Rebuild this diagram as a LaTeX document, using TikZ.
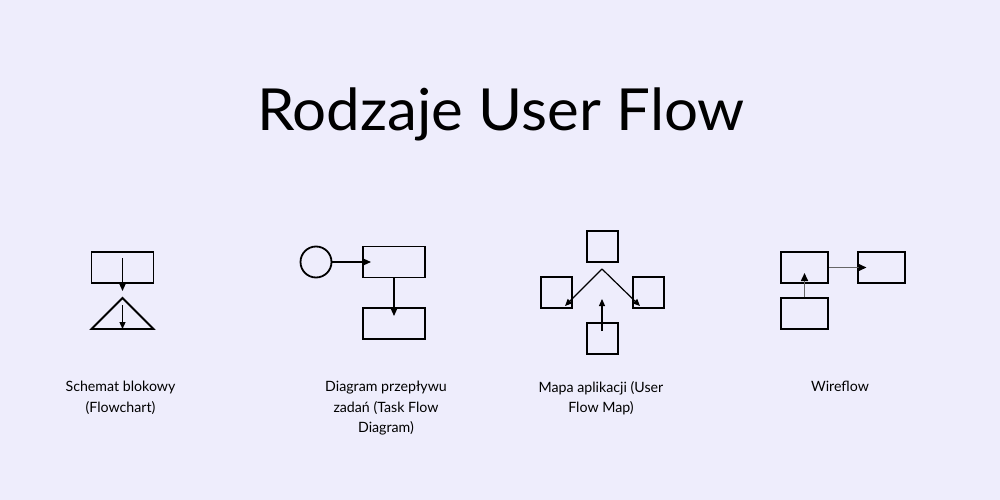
\documentclass[tikz,border=0pt]{standalone}
\usepackage{fontspec}
\setmainfont{Lato}
\newfontfamily\titlefont[FakeStretch=1.035]{Lato}
\usetikzlibrary{arrows.meta,calc}
\definecolor{bg}{HTML}{EEEDFC}
\begin{document}
\begin{tikzpicture}[x=1pt,y=-1pt,
  box/.style={draw=black,line width=1.8pt,inner sep=0pt,minimum width=#1,minimum height=31pt},
  box/.default=62pt,
  sq/.style={draw=black,line width=1.8pt,inner sep=0pt,minimum width=31pt,minimum height=31pt},
  arr/.style={line width=1.2pt,-{Triangle[length=7pt,width=6pt]}},
  garr/.style={line width=1.5pt,draw=black!60,-{Triangle[length=8pt,width=7pt,color=black]}},
  lbl/.style={font=\fontsize{14.2}{20.5}\selectfont,align=center,anchor=north,inner sep=0pt,text=black}]
\fill[bg] (0,0) rectangle (1000,500);
\useasboundingbox (0,0) rectangle (1000,500);
% title
\node[anchor=base,inner sep=0pt,font=\titlefont\fontsize{58}{60}\selectfont] (title) at (501,130) {Rodzaje User Flow};
% flowchart
\node[box] (f1) at (122.5,267.5) {};
\coordinate (fs1) at (122.5,258);
\coordinate (fe1) at (122.5,291);
\draw[arr] (fs1) -- (fe1);
\coordinate (ta) at (122.5,298);
\coordinate (tl) at (91.5,329);
\coordinate (tr) at (153.5,329);
\draw[line width=1.8pt,line join=miter] (ta) -- (tl) -- (tr) -- cycle;
\coordinate (fs2) at (122.5,305);
\coordinate (fe2) at (122.5,329);
\draw[arr] (fs2) -- (fe2);
\node[lbl] (l1) at (120.5,381) {Schemat blokowy\\(Flowchart)};
% task flow
\node[draw=black,line width=1.8pt,circle,minimum size=31pt,inner sep=0pt] (c) at (316,262) {};
\node[box] (t1) at (394,262) {};
\node[box] (t2) at (394,323.5) {};
\coordinate (te1) at (371,262);
\draw[arr] (c.east) -- (te1);
\coordinate (te2) at (394,316);
\draw[arr] (t1.south) -- (te2);
\node[lbl] (l2) at (386,381) {Diagram przepływu\\zadań (Task Flow\\Diagram)};
% user flow map
\node[sq] (mt) at (602.5,246.5) {};
\node[sq] (ml) at (556.5,292.5) {};
\node[sq] (mr) at (648.5,292.5) {};
\node[sq] (mb) at (602.5,338.5) {};
\coordinate (apex) at (602,269);
\coordinate (tipl) at (565,306);
\coordinate (tipr) at (640,306);
\draw[arr] (apex) -- (tipl);
\draw[arr] (apex) -- (tipr);
\coordinate (us) at (602,331);
\coordinate (ue) at (602,299);
\draw[arr] (us) -- (ue);
\node[lbl] (l3) at (601,381) {Mapa aplikacji (User\\Flow Map)};
% wireflow
\node[box=47pt] (wa) at (804.5,267.5) {};
\node[box=47pt] (wb) at (881.5,267.5) {};
\node[box=47pt] (wc) at (804.5,313.5) {};
\coordinate (we1) at (866.5,267.5);
\draw[garr] (wa.east) -- (we1);
\coordinate (we2) at (804.5,273);
\draw[garr] (wc.north) -- (we2);
\node[lbl] (l4) at (840,381) {Wireflow};
\end{tikzpicture}
\end{document}
